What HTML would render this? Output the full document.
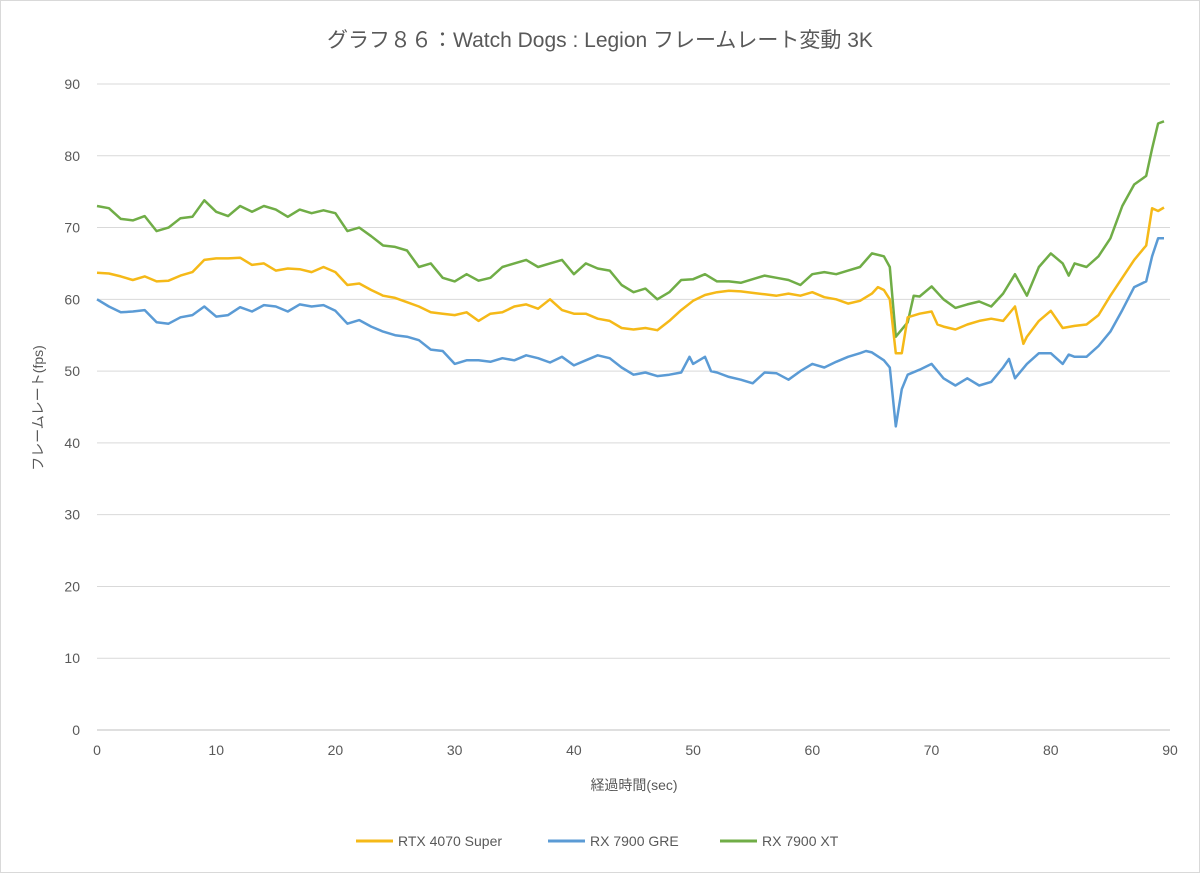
<!DOCTYPE html>
<html><head><meta charset="utf-8">
<style>
html,body{margin:0;padding:0;background:#fff;}
svg{display:block;font-family:"Liberation Sans","Noto Sans CJK JP",sans-serif;}
</style></head>
<body>
<svg id="chart" width="1200" height="873" viewBox="0 0 1200 873" xmlns="http://www.w3.org/2000/svg">
<rect x="0.5" y="0.5" width="1199" height="872" fill="#fff" stroke="#d9d9d9"/>
<text x="600" y="47" text-anchor="middle" font-size="21" fill="#595959">グラフ８６：Watch Dogs : Legion フレームレート変動 3K</text>
<g id="grid"></g>
<g id="series"></g>
<text x="634" y="790" text-anchor="middle" font-size="14" fill="#595959">経過時間(sec)</text>
<text transform="translate(43,408) rotate(-90)" text-anchor="middle" font-size="14" fill="#595959">フレームレート(fps)</text>
<g font-size="14" fill="#595959">
<g><line x1="356" y1="841" x2="393" y2="841" stroke="#f5b918" stroke-width="3"/><text x="398" y="846">RTX 4070 Super</text></g>
<g><line x1="548" y1="841" x2="585" y2="841" stroke="#5b9bd5" stroke-width="3"/><text x="590" y="846">RX 7900 GRE</text></g>
<g><line x1="720" y1="841" x2="757" y2="841" stroke="#70ad47" stroke-width="3"/><text x="762" y="846">RX 7900 XT</text></g>
</g>
</svg>
<script>
const yTicks=[0,10,20,30,40,50,60,70,80,90];
const xTicks=[0,10,20,30,40,50,60,70,80,90];
const xtT=[0,1,2,3,4,5,6,7,8,9,10,11,12,13,14,15,16,17,18,19,20,21,22,23,24,25,26,27,28,29,30,31,32,33,34,35,36,37,38,39,40,41,42,43,44,45,46,47,48,49,50,51,52,53,54,55,56,57,58,59,60,61,62,63,64,65,66,66.5,67,68,68.5,69,70,71,72,73,74,75,76,77,78,79,80,81,81.5,82,83,84,85,86,87,88,88.5,89,89.5];
const xtV=[73,72.7,71.2,71,71.6,69.5,70,71.3,71.5,73.8,72.2,71.6,73,72.2,73,72.5,71.5,72.5,72,72.4,72,69.5,70,68.8,67.5,67.3,66.8,64.5,65,63,62.5,63.5,62.6,63,64.5,65,65.5,64.5,65,65.5,63.5,65,64.3,64,62,61,61.5,60,61,62.7,62.8,63.5,62.5,62.5,62.3,62.8,63.3,63,62.7,62,63.5,63.8,63.5,64,64.5,66.4,66,64.5,54.8,56.8,60.5,60.4,61.8,60,58.8,59.3,59.7,59,60.8,63.5,60.5,64.5,66.4,65,63.3,65,64.5,66,68.5,73,76,77.2,81,84.5,84.8];
const rtxT=[0,1,2,3,4,5,6,7,8,9,10,11,12,13,14,15,16,17,18,19,20,21,22,23,24,25,26,27,28,29,30,31,32,33,34,35,36,37,38,39,40,41,42,43,44,45,46,47,48,49,50,51,52,53,54,55,56,57,58,59,60,61,62,63,64,65,65.5,66,66.5,67,67.5,68,69,70,70.5,71,72,73,74,75,76,77,77.7,78,79,80,81,82,83,84,85,86,87,88,88.5,89,89.5];
const rtxV=[63.7,63.6,63.2,62.7,63.2,62.5,62.6,63.3,63.8,65.5,65.7,65.7,65.8,64.8,65,64,64.3,64.2,63.8,64.5,63.8,62,62.2,61.3,60.5,60.2,59.6,59,58.2,58,57.8,58.2,57,58,58.2,59,59.3,58.7,60,58.5,58,58,57.3,57,56,55.8,56,55.7,57,58.5,59.8,60.6,61,61.2,61.1,60.9,60.7,60.5,60.8,60.5,61,60.3,60,59.4,59.8,60.8,61.7,61.3,60,52.5,52.5,57.5,58,58.3,56.5,56.2,55.8,56.5,57,57.3,57,59,53.8,54.8,57,58.4,56,56.3,56.5,57.8,60.5,63,65.5,67.5,72.7,72.3,72.8];
const greT=[0,1,2,3,4,5,6,7,8,9,10,11,12,13,14,15,16,17,18,19,20,21,22,23,24,25,26,27,28,29,30,31,32,33,34,35,36,37,38,39,40,41,42,43,44,45,46,47,48,49,49.7,50,51,51.5,52,53,54,55,56,57,58,59,60,61,62,63,64,64.5,65,66,66.5,67,67.5,68,69,70,71,72,73,74,75,76,76.5,77,78,79,80,81,81.5,82,83,84,85,86,87,88,88.5,89,89.5];
const greV=[60,59,58.2,58.3,58.5,56.8,56.6,57.5,57.8,59,57.6,57.8,58.9,58.3,59.2,59,58.3,59.3,59,59.2,58.4,56.6,57.1,56.2,55.5,55,54.8,54.3,53,52.8,51,51.5,51.5,51.3,51.8,51.5,52.2,51.8,51.2,52,50.8,51.5,52.2,51.8,50.5,49.5,49.8,49.3,49.5,49.8,52,51,52,50,49.8,49.2,48.8,48.3,49.8,49.7,48.8,50,51,50.5,51.3,52,52.5,52.8,52.6,51.5,50.5,42.3,47.5,49.5,50.2,51,49,48,49,48,48.5,50.5,51.7,49,51,52.5,52.5,51,52.3,52,52,53.5,55.5,58.5,61.7,62.5,66,68.5,68.5];
const X0=97,X1=1170,Y0=730,Y1=84;
const xs=v=>X0+(v-0)/90*(X1-X0);
const ys=v=>Y0-(v/90)*(Y0-Y1);
const NS="http://www.w3.org/2000/svg";
const grid=document.getElementById('grid');
yTicks.forEach(t=>{
 const l=document.createElementNS(NS,'line');
 l.setAttribute('x1',X0);l.setAttribute('x2',X1);l.setAttribute('y1',ys(t));l.setAttribute('y2',ys(t));
 l.setAttribute('stroke',t===0?'#bfbfbf':'#d9d9d9');l.setAttribute('stroke-width','1');
 
 
 grid.appendChild(l);
 const tx=document.createElementNS(NS,'text');
 tx.setAttribute('x',X0-17);tx.setAttribute('y',ys(t)+5);tx.setAttribute('text-anchor','end');
 tx.setAttribute('font-size','14');tx.setAttribute('fill','#595959');tx.textContent=t;
 
 
 grid.appendChild(tx);
});
xTicks.forEach(t=>{
 const tx=document.createElementNS(NS,'text');
 tx.setAttribute('x',xs(t));tx.setAttribute('y',Y0+25);tx.setAttribute('text-anchor','middle');
 tx.setAttribute('font-size','14');tx.setAttribute('fill','#595959');tx.textContent=t;
 
 
 grid.appendChild(tx);
});
const sg=document.getElementById('series');
function draw(T,V,color,name){
 const p=document.createElementNS(NS,'polyline');
 p.setAttribute('points',T.map((t,i)=>xs(t).toFixed(1)+','+ys(V[i]).toFixed(1)).join(' '));
 p.setAttribute('fill','none');p.setAttribute('stroke',color);p.setAttribute('stroke-width','2.5');
 p.setAttribute('stroke-linejoin','round');
 
 
 sg.appendChild(p);
}
draw(xtT,xtV,'#70ad47','series-rx-7900-xt');
draw(rtxT,rtxV,'#f5b918','series-rtx-4070-super');
draw(greT,greV,'#5b9bd5','series-rx-7900-gre');
</script>
</body></html>
